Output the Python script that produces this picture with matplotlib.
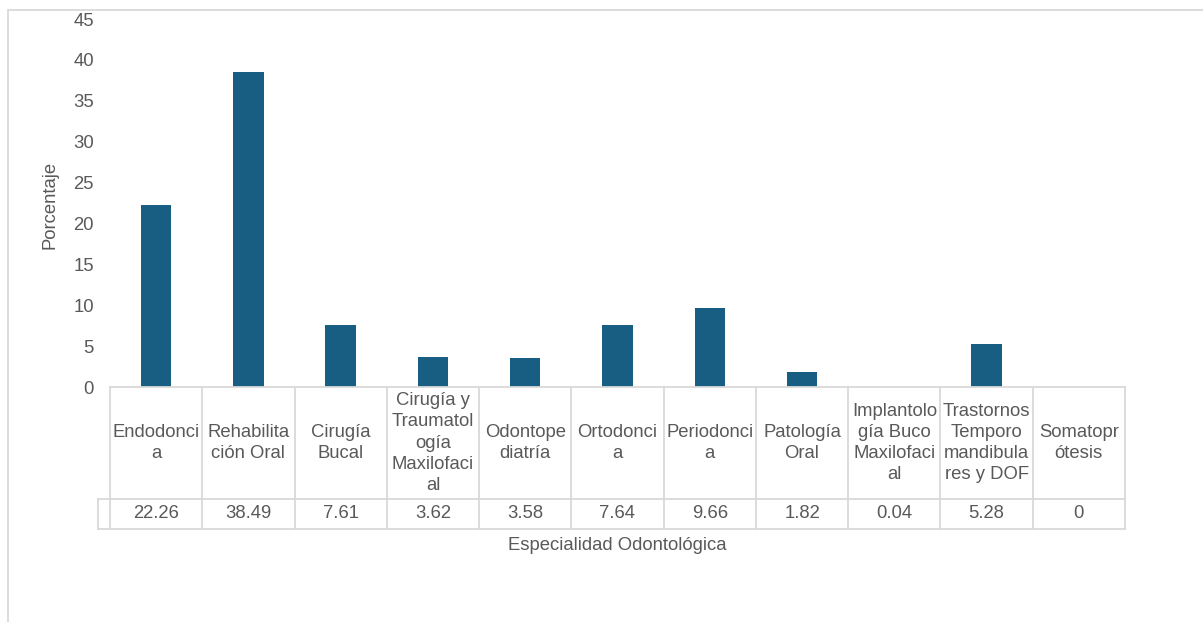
import matplotlib.pyplot as plt
from matplotlib.patches import Rectangle

plt.rcParams['font.family'] = ['Liberation Sans', 'DejaVu Sans']

# data
labels = ["Endodonci\na", "Rehabilita\nción Oral", "Cirugía\nBucal",
          "Cirugía y\nTraumatol\nogía\nMaxilofaci\nal", "Odontope\ndiatría",
          "Ortodonci\na", "Periodonci\na", "Patología\nOral",
          "Implantolo\ngía Buco\nMaxilofaci\nal", "Trastornos\nTemporo\nmandibula\nres y DOF",
          "Somatopr\nótesis"]
values = [22.26, 38.49, 7.61, 3.62, 3.58, 7.64, 9.66, 1.82, 0.04, 5.28, 0]
value_text = ["22.26", "38.49", "7.61", "3.62", "3.58", "7.64", "9.66", "1.82", "0.04", "5.28", "0"]

W, H = 1203, 622
bar_color = "#175E82"
txt = "#595959"
grid = "#D9D9D9"
fs = 13.3

fig = plt.figure(figsize=(W / 100, H / 100), dpi=100)

# outer chart frame
fig.patches.append(Rectangle((8 / W, -0.1), 1.2, (H - 10) / H + 0.1,
                             transform=fig.transFigure, fill=False,
                             edgecolor=grid, linewidth=1.3))

x0, x1 = 110, 1125
y_top, y_zero, y_mid, y_bot = 19, 387, 499, 529

ax = fig.add_axes([x0 / W, (H - y_zero) / H, (x1 - x0) / W, (y_zero - y_top) / H])
xs = list(range(len(values)))
ax.bar(xs, values, width=0.33, color=bar_color)
ax.set_xlim(-0.5, len(values) - 0.5)
ax.set_ylim(0, 45)
ax.set_yticks(range(0, 46, 5))
ax.tick_params(axis='y', length=0, pad=11.5, labelsize=fs, labelcolor=txt)
ax.set_xticks([])
for s in ax.spines.values():
    s.set_visible(False)
fig.text(50 / W, 1 - 205 / H, "Porcentaje", rotation=90, ha='center', va='center',
         fontsize=fs, color=txt)

# data table under the bars
tb = fig.add_axes([x0 / W, (H - y_bot) / H, (x1 - x0) / W, (y_bot - y_zero) / H])
tb.set_xlim(-0.5, len(values) - 0.5)
tb.set_ylim(y_bot - y_zero, 0)
tb.axis('off')
n = len(values)
lk = dict(color=grid, lw=1.3, clip_on=False)
key = -0.5 - 12 / ((x1 - x0) / n)
tb.plot([-0.5, n - 0.5], [0, 0], **lk)
tb.plot([key, n - 0.5], [y_mid - y_zero] * 2, **lk)
tb.plot([key, n - 0.5], [y_bot - y_zero] * 2, **lk)
tb.plot([key, key], [y_mid - y_zero, y_bot - y_zero], **lk)
for i in range(n + 1):
    tb.plot([i - 0.5, i - 0.5], [0, y_bot - y_zero], **lk)
for i in range(n):
    tb.text(i, (y_mid - y_zero) / 2, labels[i], ha='center', va='center',
            fontsize=fs, color=txt, linespacing=1.33)
    tb.text(i, (y_mid + y_bot) / 2 - y_zero, value_text[i], ha='center', va='center',
            fontsize=fs, color=txt)

fig.text((x0 + x1) / 2 / W, 1 - 546 / H, "Especialidad Odontológica",
         ha='center', va='center', fontsize=fs, color=txt)

fig.savefig("out.png", dpi=100)
